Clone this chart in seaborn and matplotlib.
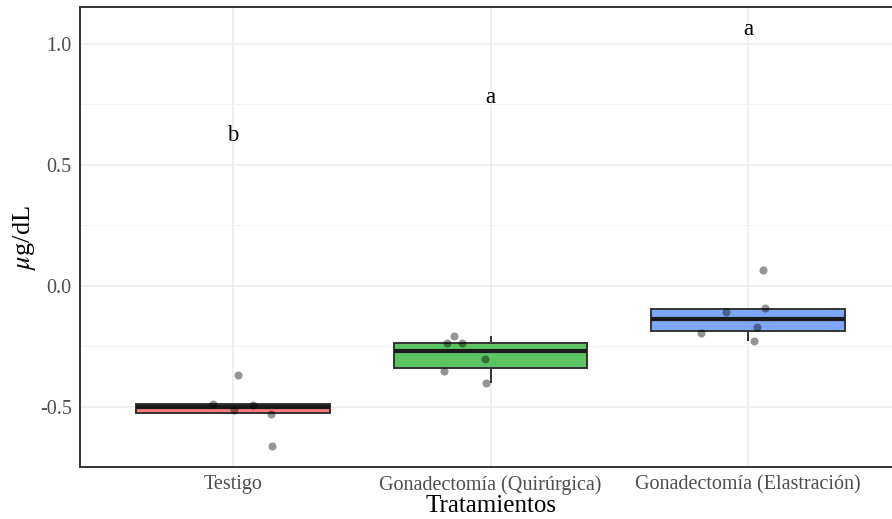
import numpy as np
import pandas as pd
import seaborn as sns
import matplotlib.pyplot as plt
from matplotlib.ticker import MultipleLocator

categories = ["Testigo", "Gonadectomía (Quirúrgica)", "Gonadectomía (Elastración)"]
testigo = [-0.368, -0.490, -0.488, -0.511, -0.529, -0.661]
quirurgica = [-0.205, -0.237, -0.236, -0.300, -0.350, -0.401]
elastracion = [0.066, -0.107, -0.092, -0.168, -0.193, -0.226]
letters = ["b", "a", "a"]
letter_y = [0.62, 0.777, 1.058]
y_ticks = [-0.5, 0.0, 0.5, 1.0]
y_ticklabels = ["-0.5", "0.0", "0.5", "1.0"]
fill_colors = ["#F47C7A", "#5CC462", "#7EA7FA"]

df = pd.DataFrame({
    "grupo": [categories[0]] * len(testigo) + [categories[1]] * len(quirurgica) + [categories[2]] * len(elastracion),
    "valor": testigo + quirurgica + elastracion,
})

sns.set_theme(style="white")
plt.rcParams["font.family"] = ["Liberation Serif", "DejaVu Serif"]
plt.rcParams["mathtext.fontset"] = "stix"

fig = plt.figure(figsize=(8.92, 5.19), dpi=100)
W, H = 892, 519
ax = fig.add_axes([80 / W, (H - 467) / H, (901 - 80) / W, (467 - 7.3) / H])

palette = dict(zip(categories, fill_colors))
sns.boxplot(data=df, x="grupo", y="valor", hue="grupo", order=categories,
            palette=palette, saturation=1, width=0.75, showfliers=False, showcaps=False,
            linecolor="#333333", linewidth=1.4,
            medianprops=dict(color="#1a1a1a", linewidth=3.0),
            whiskerprops=dict(color="#333333", linewidth=1.4),
            legend=False, ax=ax, zorder=2)

np.random.seed(3)
sns.stripplot(data=df, x="grupo", y="valor", order=categories, color="black",
              alpha=0.42, size=5.8, jitter=0.19, linewidth=0, ax=ax, zorder=3)

for i, (lab, yv) in enumerate(zip(letters, letter_y)):
    ax.text(i, yv, lab, ha="center", va="center", fontsize=16.5, color="black")

ax.set_xlim(-0.594, 2.594)
ax.set_ylim(-0.748, 1.151)
ax.set_yticks(y_ticks)
ax.set_yticklabels(y_ticklabels)
ax.yaxis.set_minor_locator(MultipleLocator(0.25))
ax.set_axisbelow(True)
ax.grid(which="major", color="#EBEBEB", linewidth=1.1)
ax.grid(which="minor", axis="y", color="#F2F2F2", linewidth=0.7)
ax.tick_params(axis="both", which="both", length=0, labelsize=14.5, colors="#4D4D4D")
ax.tick_params(axis="x", pad=6)
ax.tick_params(axis="y", pad=6)
for s in ax.spines.values():
    s.set_color("#333333")
    s.set_linewidth(1.4)

ax.set_xlabel("Tratamientos", fontsize=18, color="black", labelpad=0)
ax.set_ylabel(r"$\mu$g/dL", fontsize=19, color="black", labelpad=1)

fig.savefig("out.png", dpi=100)
